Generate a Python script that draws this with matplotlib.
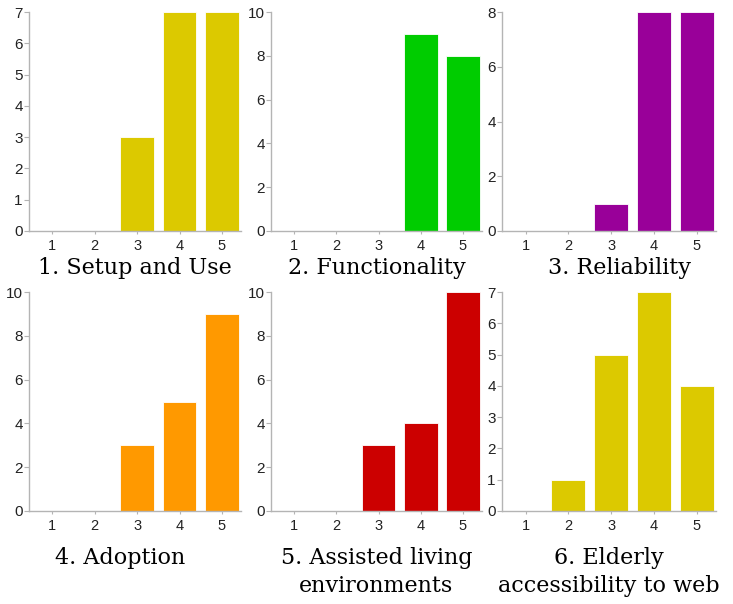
import numpy as np
import matplotlib
matplotlib.use('Agg')
import matplotlib.pyplot as plt

plt.rcParams['font.family'] = ['Liberation Sans', 'DejaVu Sans']

# scores 1..5, count of answers for each question
scores = [1, 2, 3, 4, 5]
setup_use = [0, 0, 3, 7, 7]
functionality = [0, 0, 0, 9, 8]
reliability = [0, 0, 1, 8, 8]
adoption = [0, 0, 3, 5, 9]
assisted_living = [0, 0, 3, 4, 10]
elderly_web = [0, 1, 5, 7, 4]

titles = ['1. Setup and Use', '2. Functionality', '3. Reliability',
          '4. Adoption', '5. Assisted living\nenvironments',
          '6. Elderly\naccessibility to web']
colors = ['#dcc900', '#00cc00', '#990099', '#ff9900', '#cc0000', '#dcc900']
ymax = [7, 10, 8, 10, 10, 7]
ystep = [1, 2, 2, 2, 2, 1]
series = [setup_use, functionality, reliability, adoption, assisted_living, elderly_web]

W, H = 733, 604
fig = plt.figure(figsize=(W / 100, H / 100), dpi=100)

# axes boxes in pixels: left, right, top, baseline
boxes = [(29, 241, 12, 231), (271, 482, 12, 231), (502, 716, 12, 231),
         (29, 241, 292, 511), (271, 482, 292, 511), (502, 716, 292, 511)]
title_x = [0.5, 0.5, 0.55, 0.43, 0.5, 0.5]
title_y = [-0.12, -0.12, -0.12, -0.165, -0.165, -0.165]

gray = '#b4b4b4'
for i in range(6):
    l, r, t, b = boxes[i]
    ax = fig.add_axes([l / W, 1 - b / H, (r - l) / W, (b - t) / H])
    ax.bar(scores, series[i], width=0.8, color=colors[i], edgecolor='white', linewidth=0.6)
    ax.set_xlim(0.45, 5.45)
    ax.set_ylim(0, ymax[i])
    ax.set_yticks(np.arange(0, ymax[i] + 1, ystep[i]))
    ax.set_xticks(scores)
    for s in ['top', 'right']:
        ax.spines[s].set_visible(False)
    for s in ['left', 'bottom']:
        ax.spines[s].set_color(gray)
        ax.spines[s].set_linewidth(1.0)
    ax.tick_params(axis='y', length=3.5, color=gray, labelsize=11, pad=1, labelcolor='#222222')
    ax.tick_params(axis='x', length=2, color=gray, labelsize=10.5, pad=4, labelcolor='#222222')
    ax.text(title_x[i], title_y[i], titles[i], transform=ax.transAxes, ha='center', va='top',
            fontsize=16, family='DejaVu Serif', linespacing=1.35)

fig.savefig('out.png', dpi=100)
